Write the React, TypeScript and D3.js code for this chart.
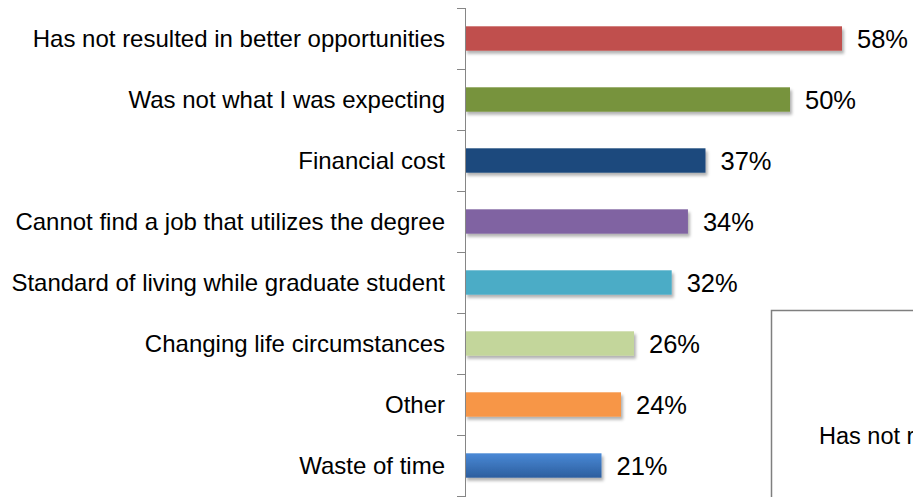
import React, { useEffect, useRef } from 'react';
import * as d3 from 'd3';

// survey reasons, top to bottom
const categories = [
  'Has not resulted in better opportunities',
  'Was not what I was expecting',
  'Financial cost',
  'Cannot find a job that utilizes the degree',
  'Standard of living while graduate student',
  'Changing life circumstances',
  'Other',
  'Waste of time',
];
const values = [0.58, 0.5, 0.37, 0.343, 0.318, 0.26, 0.24, 0.21];
const colors = ['#C0504D', '#77933C', '#1F497D', '#8064A2', '#4BACC6', '#C3D69B', '#F79646', 'url(#blueGrad)'];
const boxText = 'Has not resulted in better opportunities';

const App = () => {
  const chartRef = useRef<SVGSVGElement | null>(null);
  const width = 913;
  const height = 497;
  const axisX = 465;

  useEffect(() => {
    const svg = d3.select(chartRef.current);
    svg.selectAll('*').remove();

    const defs = svg.append('defs');
    const f = defs.append('filter').attr('id', 'shadow').attr('x', '-10%').attr('y', '-30%').attr('width', '120%').attr('height', '180%');
    f.append('feDropShadow')
      .attr('dx', 2).attr('dy', 3).attr('stdDeviation', 1.8)
      .attr('flood-color', '#000').attr('flood-opacity', 0.3);
    const g = defs.append('linearGradient').attr('id', 'blueGrad').attr('x1', 0).attr('y1', 0).attr('x2', 0).attr('y2', 1);
    g.append('stop').attr('offset', '0%').attr('stop-color', '#4A89D6');
    g.append('stop').attr('offset', '100%').attr('stop-color', '#2C5E9E');

    const x = d3.scaleLinear().domain([0, 1]).range([axisX, axisX + 650]);
    const y = d3.scaleBand<string>()
      .domain(categories)
      .range([8, 496])
      .paddingInner(0.6)
      .paddingOuter(0.3);

    const step = y.step();
    const top = (y(categories[0]) as number) - y.paddingOuter() * step;

    // bars
    svg.append('g')
      .selectAll('rect')
      .data(categories)
      .join('rect')
      .attr('x', x(0))
      .attr('y', d => y(d) as number)
      .attr('width', (d, i) => x(values[i]) - x(0))
      .attr('height', y.bandwidth())
      .attr('fill', (d, i) => colors[i])
      .attr('filter', 'url(#shadow)');

    // axis line and ticks
    const axis = svg.append('g').attr('stroke', '#868686').attr('stroke-width', 1);
    axis.append('line')
      .attr('x1', axisX + 0.5).attr('x2', axisX + 0.5)
      .attr('y1', top).attr('y2', height);
    axis.selectAll('line.tick')
      .data(d3.range(categories.length + 1))
      .join('line')
      .attr('class', 'tick')
      .attr('x1', axisX - 8).attr('x2', axisX + 0.5)
      .attr('y1', i => Math.round(top + i * step) + 0.5)
      .attr('y2', i => Math.round(top + i * step) + 0.5);

    // category labels
    svg.append('g')
      .selectAll('text')
      .data(categories)
      .join('text')
      .attr('x', 445)
      .attr('y', d => (y(d) as number) + y.bandwidth() / 2)
      .attr('dy', '0.35em')
      .attr('text-anchor', 'end')
      .attr('font-family', 'Liberation Sans, Arial, sans-serif')
      .attr('font-size', 24)
      .attr('fill', '#000')
      .text(d => d);

    // value labels
    svg.append('g')
      .selectAll('text')
      .data(categories)
      .join('text')
      .attr('x', (d, i) => x(values[i]) + 15)
      .attr('y', d => (y(d) as number) + y.bandwidth() / 2)
      .attr('dy', '0.36em')
      .attr('font-family', 'Liberation Sans, Arial, sans-serif')
      .attr('font-size', 25.5)
      .attr('fill', '#000')
      .text((d, i) => `${Math.round(values[i] * 100)}%`);

    // cut-off call-out box
    svg.append('rect')
      .attr('x', 771.5).attr('y', 310.5)
      .attr('width', 300).attr('height', 300)
      .attr('fill', '#fff')
      .attr('stroke', '#7F7F7F')
      .attr('stroke-width', 1.5);
    svg.append('text')
      .attr('x', 819).attr('y', 444)
      .attr('font-family', 'Liberation Sans, Arial, sans-serif')
      .attr('font-size', 23.5)
      .attr('fill', '#000')
      .text(boxText);
  }, []);

  return (
    <div style={{ position: 'fixed', left: 0, top: 0, width, height, overflow: 'hidden', background: '#fff' }}>
      <svg ref={chartRef} width={width} height={height} style={{ display: 'block' }} />
    </div>
  );
};

export default App;
